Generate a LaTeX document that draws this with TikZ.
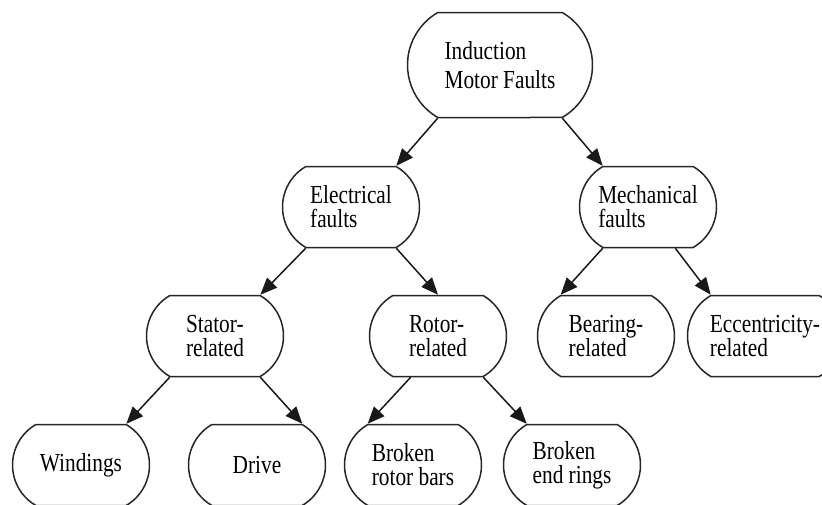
\documentclass[tikz,border=0pt]{standalone}
\usepackage{fontspec}
\setmainfont{Liberation Serif}[FakeStretch=0.82]
\usepackage{tikz}
\usetikzlibrary{arrows.meta,shapes.misc}

\begin{document}
\begin{tikzpicture}[x=1pt, y=-1pt,
    box/.style={rounded rectangle, rounded rectangle arc length=120, draw=black!85, line width=1.5pt, minimum width=137pt, minimum height=81pt, inner xsep=0pt, inner ysep=0pt, align=left, font=\fontsize{26}{24}\selectfont},
    arrow/.style={-{Triangle[length=17pt,width=14pt]}, line width=1.5pt, draw=black!90}
]
    \useasboundingbox (0,0) rectangle (822,504);

    \node[box, minimum width=185pt, minimum height=105pt, font=\fontsize{26}{29}\selectfont] (root) at (500,65) {Induction\\Motor Faults};

    \node[box] (elec) at (351,207) {Electrical\\faults};
    \node[box] (mech) at (648,207) {Mechanical\\faults};

    \node[box] (stator) at (215,336) {Stator-\\related};
    \node[box] (rotor) at (438,336) {Rotor-\\related};
    \node[box] (bearing) at (606,336) {Bearing-\\related};
    \node[box, inner xsep=-9pt] (ecc) at (765,336) {Eccentricity-\\related};

    \node[box] (windings) at (81,465) {Windings};
    \node[box] (drive) at (257,465) {Drive};
    \node[box] (bars) at (413,465) {Broken\\rotor bars};
    \node[box] (rings) at (572,465) {Broken\\end rings};

    \draw[arrow] (root.south west) -- (elec.north east);
    \draw[arrow] (root.south east) -- (mech.north west);
    \draw[arrow] (elec.south west) -- (stator.north east);
    \draw[arrow] (elec.south east) -- (rotor.north);
    \draw[arrow] (mech.south west) -- (bearing.north west);
    \draw[arrow] ([xshift=-18pt]mech.south east) -- (ecc.north west);
    \draw[arrow] (stator.south west) -- (windings.north east);
    \draw[arrow] (stator.south east) -- (drive.north east);
    \draw[arrow] ([xshift=18pt]rotor.south west) -- (bars.north west);
    \draw[arrow] (rotor.south east) -- (rings.north west);
\end{tikzpicture}
\end{document}
